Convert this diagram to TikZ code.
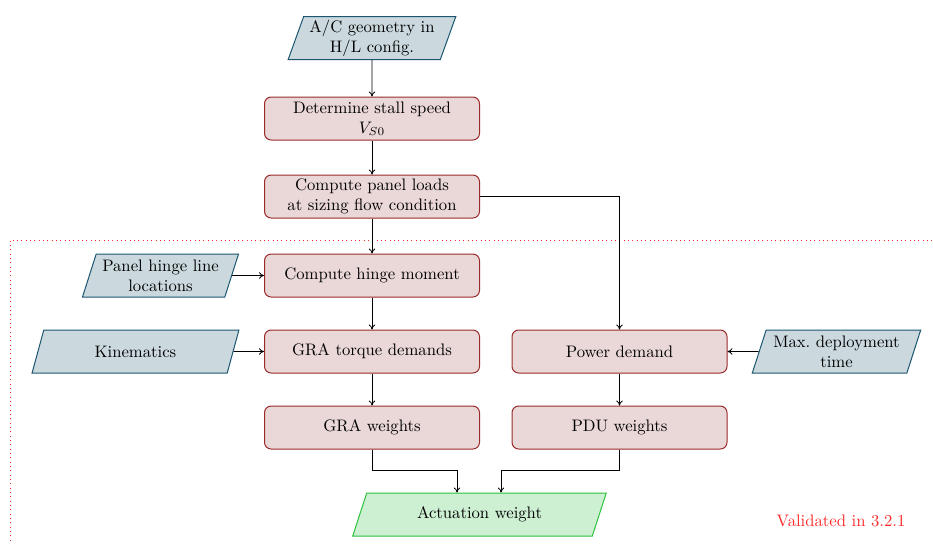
\documentclass[tikz,border=0pt]{standalone}
\usetikzlibrary{shapes.geometric,arrows.meta}
\definecolor{inFill}{HTML}{CBD9DF}
\definecolor{inDraw}{HTML}{1B5670}
\definecolor{prFill}{HTML}{EAD7D7}
\definecolor{prDraw}{HTML}{9A2A2A}
\definecolor{outFill}{HTML}{CDF0D3}
\definecolor{outDraw}{HTML}{2CC23C}
\definecolor{valRed}{HTML}{FF2A2A}
\tikzset{
  procbox/.style={draw=prDraw, fill=prFill, rounded corners=4pt, minimum width=129pt, minimum height=25.8pt, align=center, inner sep=2pt, line width=0.6pt},
  inbox/.style={draw=inDraw, fill=inFill, trapezium, trapezium left angle=70, trapezium right angle=110, trapezium stretches=true, minimum height=25.8pt, align=center, inner sep=1pt, line width=0.6pt},
  outbox/.style={draw=outDraw, fill=outFill, trapezium, trapezium left angle=67, trapezium right angle=113, trapezium stretches=true, minimum height=25.8pt, align=center, inner sep=1pt, line width=0.6pt},
  conn/.style={-{To[length=3pt,width=4pt]}, line width=0.5pt},
}
\begin{document}
\begin{tikzpicture}[x=0.6pt,y=-0.6pt]
\useasboundingbox (0,0) rectangle (933,543);
\draw[valRed, dotted, line width=0.6pt] (10,1000) -- (10,240) -- (1000,240);

\node[inbox, minimum width=101.4pt] (ac) at (372,38) {A/C geometry in\\H/L config.};
\node[procbox] (stall) at (372,118.5) {Determine stall speed\\$V_{S0}$};
\node[procbox] (loads) at (372,196.5) {Compute panel loads\\at sizing flow condition};
\node[procbox] (hinge) at (372,275.5) {Compute hinge moment};
\node[inbox, minimum width=94.2pt] (phl) at (160.5,275.5) {Panel hinge line\\locations};
\node[inbox, minimum width=124.2pt] (kin) at (135.5,351.5) {Kinematics};
\node[procbox] (gra) at (372,351.5) {GRA torque demands};
\node[procbox] (pow) at (619.5,351.5) {Power demand};
\node[inbox, minimum width=101.4pt] (max) at (836.5,351.5) {Max.\ deployment\\time};
\node[procbox] (graw) at (372,427.5) {GRA weights};
\node[procbox] (pduw) at (619.5,427.5) {PDU weights};
\node[outbox, minimum width=153pt] (act) at (479.5,514.5) {Actuation weight};
\node[text=valRed] (val) at (841,521) {Validated in 3.2.1};

\draw[conn] (ac) -- (stall);
\draw[conn] (stall) -- (loads);
\draw[conn] (loads) -- (hinge);
\draw[conn] (loads.east) -| (pow.north);
\draw[conn] (hinge) -- (gra);
\draw[conn] (gra) -- (graw);
\draw[conn] (pow) -- (pduw);
\draw[conn] (phl.east) -- (hinge.west);
\draw[conn] (kin.east) -- (gra.west);
\draw[conn] (max.west) -- (pow.east);
\coordinate (c1) at (457,470);
\coordinate (c2) at (501,470);
\draw[conn] (graw.south) |- (c1) -- (c1 |- act.north);
\draw[conn] (pduw.south) |- (c2) -- (c2 |- act.north);
\end{tikzpicture}
\end{document}
